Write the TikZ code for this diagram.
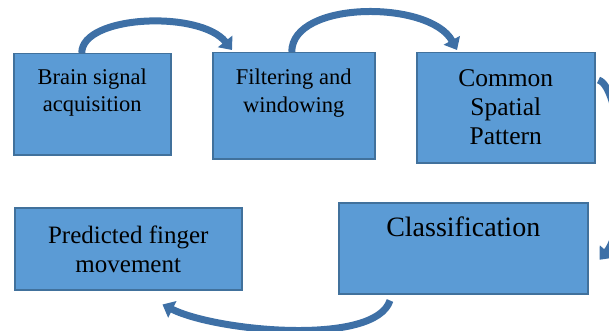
\documentclass[tikz,border=0pt]{standalone}
\usepackage{fontspec}
\setmainfont{Liberation Serif}
\usetikzlibrary{arrows.meta}
\definecolor{boxfill}{RGB}{91,155,213}
\definecolor{boxline}{RGB}{65,113,156}
\definecolor{flowblue}{RGB}{62,112,166}
\tikzset{
  stage/.style={draw=boxline, line width=1.5pt, fill=boxfill, anchor=north west, inner sep=0pt},
  stagelbl/.style 2 args={align=center, anchor=base, inner sep=0pt, font=\fontsize{#1}{#2}\selectfont},
  flow/.style={draw=flowblue, line width=7pt, -{Triangle[width=18pt,length=11pt]}}
}
\begin{document}
\begin{tikzpicture}[x=1pt,y=-1pt]
\useasboundingbox (0,0) rectangle (609,331);
\node[stage, minimum width=157pt, minimum height=101pt] (brain) at (13,53){};
\node[stagelbl={22.5}{27}] (brainlbl) at ([yshift=-59pt]brain.north){Brain signal\\acquisition};
\node[stage, minimum width=162pt, minimum height=106pt] (filter) at (212,52){};
\node[stagelbl={22.5}{28}] (filterlbl) at ([yshift=-61pt]filter.north){Filtering and\\windowing};
\node[stage, minimum width=178pt, minimum height=110pt] (csp) at (416,52){};
\node[stagelbl={25.5}{29}] (csplbl) at ([yshift=-93pt]csp.north){Common\\Spatial\\Pattern};
\node[stage, minimum width=249pt, minimum height=91pt] (classify) at (338,202){};
\node[stagelbl={28}{32}] (classifylbl) at ([yshift=-34pt]classify.north){Classification};
\node[stage, minimum width=227pt, minimum height=82pt] (predict) at (14,207){};
\node[stagelbl={25}{29}] (predictlbl) at ([yshift=-65pt]predict.north){Predicted finger\\movement};
\draw[flow] ([xshift=-10.5pt]brain.north) .. controls +(0,-38) and +(-32,-40) .. ([xshift=20pt,yshift=2pt]filter.north west);
\draw[flow] ([xshift=-2pt]filter.north) .. controls +(0,-52) and +(-27,-50) .. ([xshift=41pt,yshift=2pt]csp.north west);
\draw[flow] ([xshift=3pt,yshift=-28pt]csp.north east) .. controls +(25,8) and +(30,-34) .. ([xshift=11pt,yshift=-11.5pt]classify.east);
\draw[flow] ([xshift=52pt,yshift=-6pt]classify.south west) .. controls +(-15,46) and +(54,27) .. ([xshift=-80pt,yshift=-14pt]predict.south east);
\end{tikzpicture}
\end{document}
